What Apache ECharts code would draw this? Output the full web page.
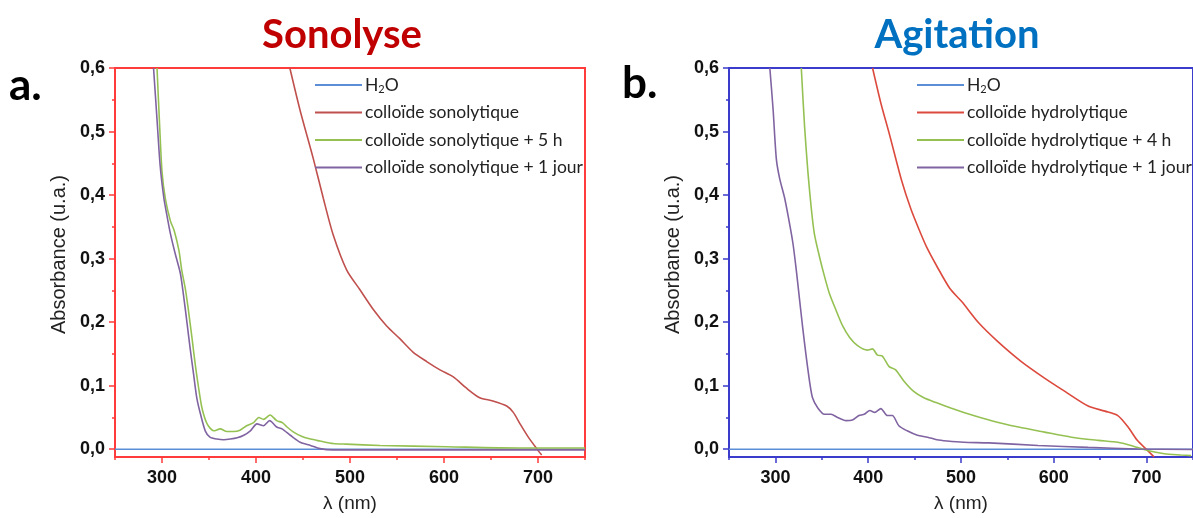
<!DOCTYPE html>
<html>
<head>
<meta charset="utf-8">
<script src="https://cdn.jsdelivr.net/npm/echarts@6/dist/echarts.min.js"></script>
<style>
  html, body { margin: 0; padding: 0; background: #fff; }
  #chart { width: 1193px; height: 518px; }
</style>
</head>
<body>
<div id="chart"></div>
<script>
// ---- data (wavelength in nm, absorbance in u.a.) ----
var h2oWl = [250, 350, 450, 550, 650, 750];
var h2oAbs = [0, 0, 0, 0, 0, 0];

// a. Sonolyse
var sonoWl = [436, 446.8, 461, 471.6, 482, 496.5, 510.6, 524.8, 539, 553, 567, 581.6, 595.7, 609.9, 624, 638, 652, 666.7, 673.7, 680.9, 689.7, 698.6, 703.9];
var sonoAbs = [0.6, 0.534, 0.457, 0.395, 0.338, 0.282, 0.251, 0.220, 0.194, 0.174, 0.153, 0.138, 0.125, 0.114, 0.096, 0.081, 0.076, 0.068, 0.058, 0.040, 0.019, 0.001, -0.009];

var sono5hWl = [294.7, 297.5, 300, 303.5, 309, 313, 318, 321, 325, 328, 332, 335.5, 339, 342.5, 348, 355, 362, 369, 376, 383, 390, 397.5, 403, 408, 415, 422, 428, 433, 440, 449, 458, 468, 482, 496, 532, 603, 680, 750];
var sono5hAbs = [0.6, 0.509, 0.437, 0.395, 0.359, 0.344, 0.313, 0.282, 0.251, 0.220, 0.174, 0.132, 0.096, 0.065, 0.040, 0.029, 0.032, 0.028, 0.028, 0.030, 0.037, 0.042, 0.050, 0.047, 0.054, 0.045, 0.042, 0.035, 0.027, 0.020, 0.016, 0.013, 0.009, 0.008, 0.006, 0.004, 0.002, 0.002];

var sono1jWl = [291, 294.7, 298, 302, 305, 309, 314, 319.5, 323, 326.6, 330, 333.7, 337, 341, 346, 351, 358.5, 365.6, 372.7, 380, 387, 394, 401, 408, 414.5, 422, 427.7, 436.5, 447, 458, 468, 482, 750];
var sono1jAbs = [0.6, 0.519, 0.447, 0.395, 0.370, 0.339, 0.308, 0.277, 0.241, 0.199, 0.158, 0.117, 0.081, 0.055, 0.029, 0.019, 0.016, 0.015, 0.016, 0.018, 0.022, 0.029, 0.040, 0.037, 0.045, 0.035, 0.032, 0.022, 0.011, 0.006, 0.001, -0.001, -0.001];

// b. Agitation
var hydroWl = [404.7, 413.6, 423, 436, 446, 455, 463, 474, 488, 501, 519, 540, 565, 590, 612, 637, 655, 669, 680, 690, 701, 708];
var hydroAbs = [0.6, 0.545, 0.495, 0.423, 0.378, 0.345, 0.318, 0.288, 0.253, 0.232, 0.199, 0.169, 0.138, 0.112, 0.091, 0.068, 0.060, 0.053, 0.035, 0.014, -0.002, -0.012];

var hydro4hWl = [327.9, 331.4, 335, 338.6, 342, 347.5, 352.9, 358, 365, 372.5, 380, 388.6, 399, 404.6, 410, 415, 422.5, 429.6, 438.6, 449, 460, 474, 489, 503, 533, 562, 590, 619, 648, 669, 683, 701, 719, 737, 748];
var hydro4hAbs = [0.6, 0.509, 0.437, 0.380, 0.339, 0.303, 0.272, 0.246, 0.220, 0.194, 0.176, 0.163, 0.156, 0.158, 0.148, 0.147, 0.130, 0.125, 0.107, 0.091, 0.081, 0.073, 0.065, 0.058, 0.045, 0.035, 0.027, 0.019, 0.014, 0.011, 0.006, -0.002, -0.007, -0.009, -0.010];

var hydro1jWl = [294, 297.5, 301, 304.6, 310, 315.4, 319, 322.5, 326, 329.6, 333, 336.8, 340, 345.7, 352.9, 360, 367, 376, 383, 390, 395.7, 401.8, 407, 413.6, 420.7, 426, 433, 442, 453, 464, 474, 485, 503, 530, 583, 637, 690, 750];
var hydro1jAbs = [0.6, 0.535, 0.457, 0.426, 0.395, 0.354, 0.323, 0.282, 0.236, 0.189, 0.148, 0.107, 0.081, 0.065, 0.055, 0.055, 0.050, 0.045, 0.046, 0.053, 0.055, 0.061, 0.058, 0.064, 0.053, 0.053, 0.037, 0.029, 0.022, 0.019, 0.015, 0.013, 0.011, 0.010, 0.006, 0.003, 0.0005, -0.0005];

var xMajor = [300, 400, 500, 600, 700];
var xMinor = [250, 350, 450, 550, 650, 750];
var yMajor = [0, 0.1, 0.2, 0.3, 0.4, 0.5, 0.6];
var yMinor = [0.05, 0.15, 0.25, 0.35, 0.45, 0.55];

var namesA = ['H₂O', 'colloïde sonolytique', 'colloïde sonolytique + 5 h', 'colloïde sonolytique + 1 jour'];
var namesB = ['H₂O', 'colloïde hydrolytique', 'colloïde hydrolytique + 4 h', 'colloïde hydrolytique + 1 jour'];

function zip(xs, ys) {
	return xs.map(function(x, i) { return [x, ys[i]]; });
}

var myChart = echarts.init(document.getElementById('chart'));

var Y_MIN = -0.0122;
var labelFont = { fontFamily: 'Liberation Sans', fontWeight: 'bold', fontSize: 18, color: '#111' };
var nameFont = { fontFamily: 'Liberation Sans', fontSize: 19, color: '#222' };

function xAxes(grid, color) {
	return [{
		type: 'value', gridIndex: grid, min: 250, max: 750, position: 'bottom',
		name: 'λ (nm)', nameLocation: 'middle', nameGap: 37, nameTextStyle: nameFont,
		axisLine: { show: true, onZero: false, lineStyle: { color: color, width: 2 } },
		axisTick: { show: true, inside: false, length: 6, customValues: xMajor, lineStyle: { color: color, width: 1.5 } },
		axisLabel: Object.assign({ customValues: xMajor, margin: 12 }, labelFont),
		splitLine: { show: false }
	}, {
		type: 'value', gridIndex: grid, min: 250, max: 750, position: 'bottom',
		axisLine: { show: false, onZero: false },
		axisTick: { show: true, length: 3, customValues: xMinor, lineStyle: { color: color, width: 1.5 } },
		axisLabel: { show: false },
		splitLine: { show: false }
	}];
}

function yAxes(grid, color) {
	return [{
		type: 'value', gridIndex: grid, min: Y_MIN, max: 0.6, position: 'left',
		name: 'Absorbance (u.a.)', nameLocation: 'middle', nameGap: 46,
		nameTextStyle: { fontFamily: 'Liberation Sans', fontSize: 20, color: '#222', padding: [0, 0, 0, 16] },
		axisLine: { show: true, onZero: false, lineStyle: { color: color, width: 2 } },
		axisTick: { show: true, length: 6, customValues: yMajor, lineStyle: { color: color, width: 1.5 } },
		axisLabel: Object.assign({
			customValues: yMajor, margin: 10,
			formatter: function(v) { return v.toFixed(1).replace('.', ','); }
		}, labelFont),
		splitLine: { show: false }
	}, {
		type: 'value', gridIndex: grid, min: Y_MIN, max: 0.6, position: 'left', offset: 0,
		axisLine: { show: false, onZero: false },
		axisTick: { show: true, length: 3, customValues: yMinor, lineStyle: { color: color, width: 1.5 } },
		axisLabel: { show: false },
		splitLine: { show: false }
	}];
}

function line(name, data, color, xi, yi) {
	return {
		name: name, type: 'line', data: data,
		xAxisIndex: xi, yAxisIndex: yi,
		symbol: 'none', smooth: 0.25, clip: true,
		lineStyle: { color: color, width: 1.6 },
		itemStyle: { color: color }
	};
}

function legend(names, left) {
	return {
		data: names, orient: 'vertical', left: left, top: 75, padding: 0,
		icon: 'rect', itemWidth: 47, itemHeight: 2, itemGap: 7.5,
		selectedMode: false,
		formatter: function(n) { return n === 'H₂O' ? 'H{sub|2}O' : n; },
		textStyle: {
			fontFamily: 'Lato', fontSize: 17.5, color: '#222', lineHeight: 20, padding: [0, 0, 0, -2],
			rich: { sub: { fontFamily: 'Lato', fontSize: 11, padding: [9, 0, 0, 0] } }
		}
	};
}

var BLUE = '#5b8ed6', GREEN = '#95c153', PURPLE = '#8064a2';

option = {
	animation: false,
	grid: [
		{ left: 115, top: 68, width: 470, height: 400, show: true, borderColor: '#ff3b3b', borderWidth: 2 },
		{ left: 729, top: 68, width: 467, height: 400, show: true, borderColor: '#3b3bcc', borderWidth: 2 }
	],
	xAxis: xAxes(0, '#ff3b3b').concat(xAxes(1, '#3b3bcc')),
	yAxis: yAxes(0, '#ff3b3b').concat(yAxes(1, '#3b3bcc')),
	legend: [legend(namesA, 315), legend(namesB, 917)],
	series: [
		line(namesA[0], zip(h2oWl, h2oAbs), BLUE, 0, 0),
		line(namesA[1], zip(sonoWl, sonoAbs), '#c0504d', 0, 0),
		line(namesA[2], zip(sono5hWl, sono5hAbs), GREEN, 0, 0),
		line(namesA[3], zip(sono1jWl, sono1jAbs), PURPLE, 0, 0),
		line(namesB[0], zip(h2oWl, h2oAbs), BLUE, 2, 2),
		line(namesB[1], zip(hydroWl, hydroAbs), '#dc4a3e', 2, 2),
		line(namesB[2], zip(hydro4hWl, hydro4hAbs), GREEN, 2, 2),
		line(namesB[3], zip(hydro1jWl, hydro1jAbs), PURPLE, 2, 2)
	],
	graphic: [
		{ type: 'text', style: { text: 'Sonolyse', x: 342, y: 35, align: 'center', verticalAlign: 'middle', font: 'bold 40px Lato', fill: '#c00000' } },
		{ type: 'text', style: { text: 'Agitation', x: 957, y: 35, align: 'center', verticalAlign: 'middle', font: 'bold 40px Lato', fill: '#0070c0' } },
		{ type: 'text', style: { text: 'a.', x: 9, y: 86, align: 'left', verticalAlign: 'middle', font: 'bold 44px Lato', fill: '#000' } },
		{ type: 'text', style: { text: 'b.', x: 622, y: 84, align: 'left', verticalAlign: 'middle', font: 'bold 44px Lato', fill: '#000' } }
	]
};

myChart.setOption(option);
</script>
</body>
</html>
